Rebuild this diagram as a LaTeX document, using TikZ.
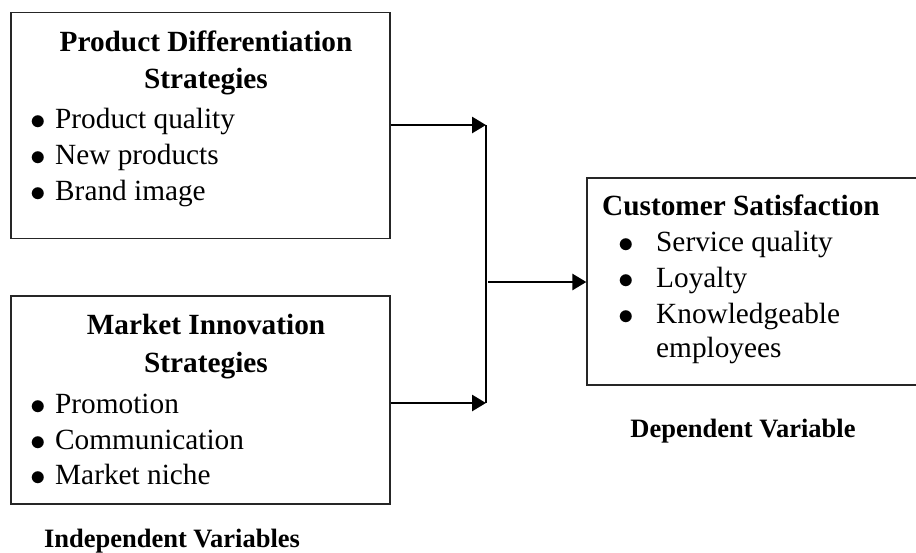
\documentclass[tikz,border=0pt]{standalone}
\usepackage{fontspec}
\usepackage{graphicx}
\setmainfont{Liberation Serif}
\usetikzlibrary{arrows.meta}
\newcommand{\itembullet}{\raisebox{-1.7pt}{\scalebox{1.25}{$\bullet$}}}
\begin{document}
\begin{tikzpicture}[x=1pt,y=-1pt,
  box/.style={draw=black!85, line width=1.3pt, rectangle, inner sep=0pt},
  head/.style={font=\fontsize{29.3}{36}\selectfont\bfseries, inner sep=0pt, anchor=base},
  item/.style={font=\fontsize{29.3}{36}\selectfont, inner sep=0pt, anchor=base west},
  caption/.style={font=\fontsize{26.5}{32}\selectfont\bfseries, inner sep=0pt, anchor=base},
  link/.style={line width=2.8pt, -{Triangle[length=14pt,width=16pt]}},
  bar/.style={line width=1.6pt}]
\clip (0,0) rectangle (916,552);
\fill[white] (0,0) rectangle (916,552);

% boxes
\node[box, minimum width=379pt, minimum height=226pt] (pds) at (200.5,125.5) {};
\node[box, minimum width=379pt, minimum height=208pt] (mis) at (200.5,400) {};
\node[box, minimum width=340pt, minimum height=207pt] (cs) at (757,281.5) {};

% product differentiation strategies
\node[head] (pdsA) at (206,51) {Product Differentiation};
\node[head] (pdsB) at (206,88) {Strategies};
\node[item] (pds1) at (30,128) {\makebox[25pt][l]{\itembullet}Product quality};
\node[item] (pds2) at (30,164) {\makebox[25pt][l]{\itembullet}New products};
\node[item] (pds3) at (30,200) {\makebox[25pt][l]{\itembullet}Brand image};

% market innovation strategies
\node[head] (misA) at (206,334) {Market Innovation};
\node[head] (misB) at (206,372) {Strategies};
\node[item] (mis1) at (30,413) {\makebox[25pt][l]{\itembullet}Promotion};
\node[item] (mis2) at (30,449) {\makebox[25pt][l]{\itembullet}Communication};
\node[item] (mis3) at (30,484) {\makebox[25pt][l]{\itembullet}Market niche};

% customer satisfaction
\node[head, anchor=base west] (csA) at (602,215) {Customer Satisfaction};
\node[item] (cs1) at (618,251) {\makebox[38pt][l]{\itembullet}Service quality};
\node[item] (cs2) at (618,287) {\makebox[38pt][l]{\itembullet}Loyalty};
\node[item] (cs3) at (618,323) {\makebox[38pt][l]{\itembullet}Knowledgeable};
\node[item] (cs4) at (656,357) {employees};

% captions
\node[caption] (indep) at (172,547) {Independent Variables};
\node[caption] (dep) at (743,437) {Dependent Variable};

% connectors
\coordinate (jtop) at (486,125);
\coordinate (jbot) at (486,403);
\coordinate (jmid) at (488,282);
\draw[bar] (jtop) -- (jbot);
\draw[link] (pds.east |- jtop) -- (jtop);
\draw[link] (mis.east |- jbot) -- (jbot);
\draw[link] (jmid) -- (cs.west |- jmid);
\end{tikzpicture}
\end{document}
